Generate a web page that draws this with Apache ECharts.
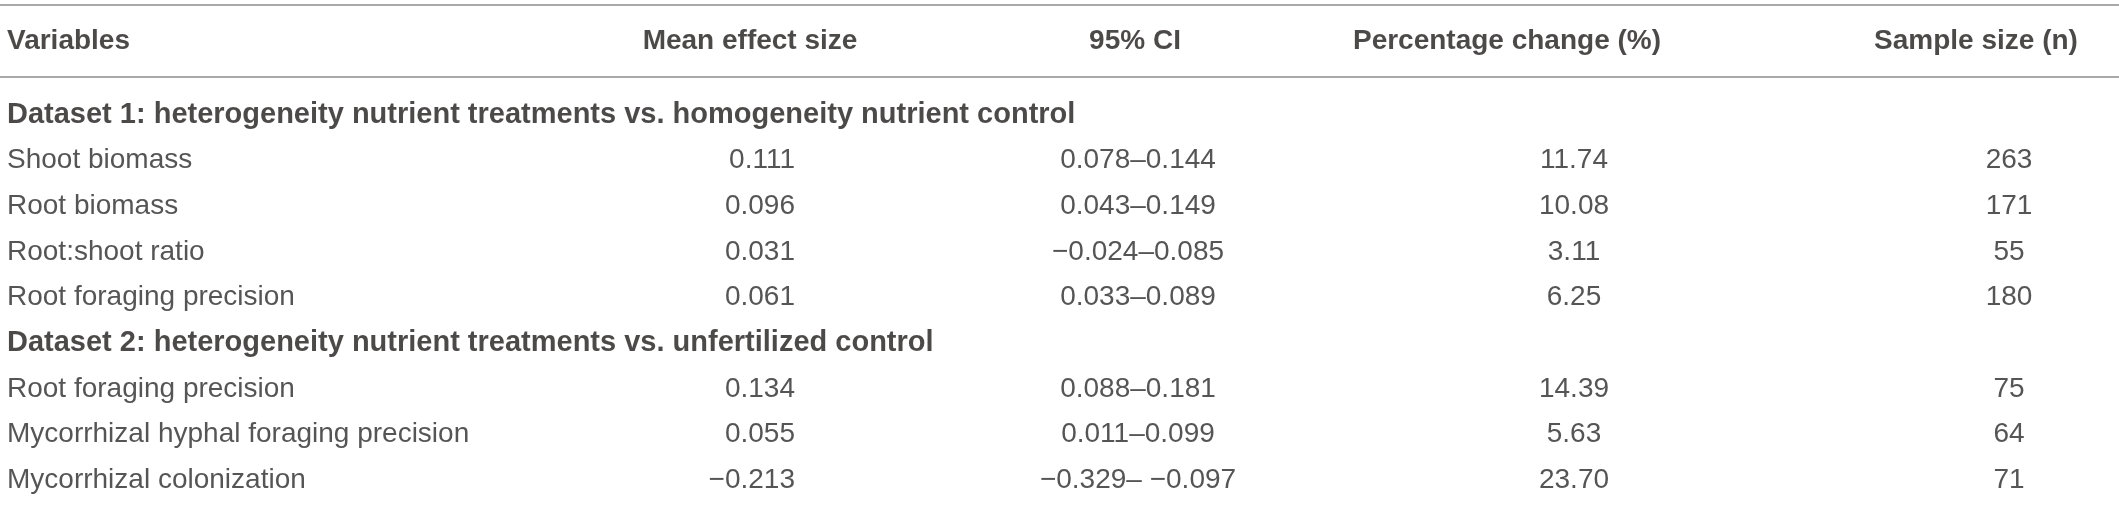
<!DOCTYPE html>
<html>
<head>
<meta charset="utf-8">
<script src="https://cdn.jsdelivr.net/npm/echarts@6/dist/echarts.min.js"></script>
<style>
  html, body { margin: 0; padding: 0; background: #fff; }
  #main { width: 2119px; height: 512px; }
</style>
</head>
<body>
<div id="main"></div>
<script>
// table content
var columns = ['Variables', 'Mean effect size', '95% CI', 'Percentage change (%)', 'Sample size (n)'];
var groups = [
  'Dataset 1: heterogeneity nutrient treatments vs. homogeneity nutrient control',
  'Dataset 2: heterogeneity nutrient treatments vs. unfertilized control'
];

var variables1 = ['Shoot biomass', 'Root biomass', 'Root:shoot ratio', 'Root foraging precision'];
var mean1 = [0.111, 0.096, 0.031, 0.061];
var ciLow1 = [0.078, 0.043, -0.024, 0.033];
var ciHigh1 = [0.144, 0.149, 0.085, 0.089];
var pct1 = [11.74, 10.08, 3.11, 6.25];
var n1 = [263, 171, 55, 180];

var variables2 = ['Root foraging precision', 'Mycorrhizal hyphal foraging precision', 'Mycorrhizal colonization'];
var mean2 = [0.134, 0.055, -0.213];
var ciLow2 = [0.088, 0.011, -0.329];
var ciHigh2 = [0.181, 0.099, -0.097];
var pct2 = [14.39, 5.63, 23.70];
var n2 = [75, 64, 71];

// layout: anchor of every column on the x scale (same units as the page width)
var headAnchor = [7, 750, 1135, 1507, 1976];
var headAlign = ['left', 'center', 'center', 'center', 'center'];
var cellAnchor = [7, 795, 1138, 1574, 2009];
var cellAlign = ['left', 'right', 'center', 'center', 'center'];

var FONT = '"Liberation Sans", Arial, sans-serif';

function num(v, d) {
  var s = Math.abs(v).toFixed(d);
  return v < 0 ? '\u2212' + s : s;
}
function ci(lo, hi) {
  return num(lo, 3) + (hi < 0 ? '\u2013 ' : '\u2013') + num(hi, 3);
}

// build body rows
var rowKeys = [];
var bodyCells = [];
var groupCells = [];
function addGroup(gi, vars, mean, lo, hi, pct, n) {
  var r = rowKeys.length;
  rowKeys.push('g' + gi);
  groupCells.push({ value: [cellAnchor[0], r], text: groups[gi], label: { align: 'left' } });
  for (var i = 0; i < vars.length; i++) {
    r = rowKeys.length;
    rowKeys.push('g' + gi + '-' + i);
    var texts = [vars[i], num(mean[i], 3), ci(lo[i], hi[i]), pct[i].toFixed(2), String(n[i])];
    for (var c = 0; c < texts.length; c++) {
      bodyCells.push({
        value: [cellAnchor[c], r],
        text: texts[c],
        label: { align: cellAlign[c] }
      });
    }
  }
}
addGroup(0, variables1, mean1, ciLow1, ciHigh1, pct1, n1);
addGroup(1, variables2, mean2, ciLow2, ciHigh2, pct2, n2);

var headCells = columns.map(function (c, i) {
  return { value: [headAnchor[i], 0], text: c, label: { align: headAlign[i] } };
});

var myChart = echarts.init(document.getElementById('main'));

var ruleLine = { show: true, lineStyle: { color: '#a9a9a9', width: 2 } };
function textSeries(x, y, data, bold, size, color) {
  return {
    type: 'scatter',
    xAxisIndex: x,
    yAxisIndex: y,
    symbolSize: 0,
    silent: true,
    data: data,
    label: {
      show: true,
      position: 'inside',
      verticalAlign: 'middle',
      fontFamily: FONT,
      fontSize: size,
      fontWeight: bold ? 'bold' : 'normal',
      color: color,
      formatter: function (p) { return p.data.text; }
    }
  };
}

var option = {
  backgroundColor: '#fff',
  animation: false,
  grid: [
    { left: 0, right: 0, top: 5, height: 72 },
    { left: 0, right: 0, top: 92, bottom: 9 }
  ],
  xAxis: [
    { gridIndex: 0, type: 'value', min: 0, max: 2119, position: 'top',
      axisLine: ruleLine, axisTick: { show: false }, axisLabel: { show: false }, splitLine: { show: false } },
    { gridIndex: 0, type: 'value', min: 0, max: 2119, position: 'bottom',
      axisLine: ruleLine, axisTick: { show: false }, axisLabel: { show: false }, splitLine: { show: false } },
    { gridIndex: 1, type: 'value', min: 0, max: 2119, show: false }
  ],
  yAxis: [
    { gridIndex: 0, type: 'category', data: ['head'], show: false },
    { gridIndex: 1, type: 'category', data: rowKeys, inverse: true, show: false }
  ],
  series: [
    textSeries(0, 0, headCells, true, 28, '#1f1b1c'),
    textSeries(2, 1, groupCells, true, 29, '#1f1b1c'),
    textSeries(2, 1, bodyCells, false, 28, '#2b2b2b')
  ]
};

myChart.setOption(option);
</script>
</body>
</html>
